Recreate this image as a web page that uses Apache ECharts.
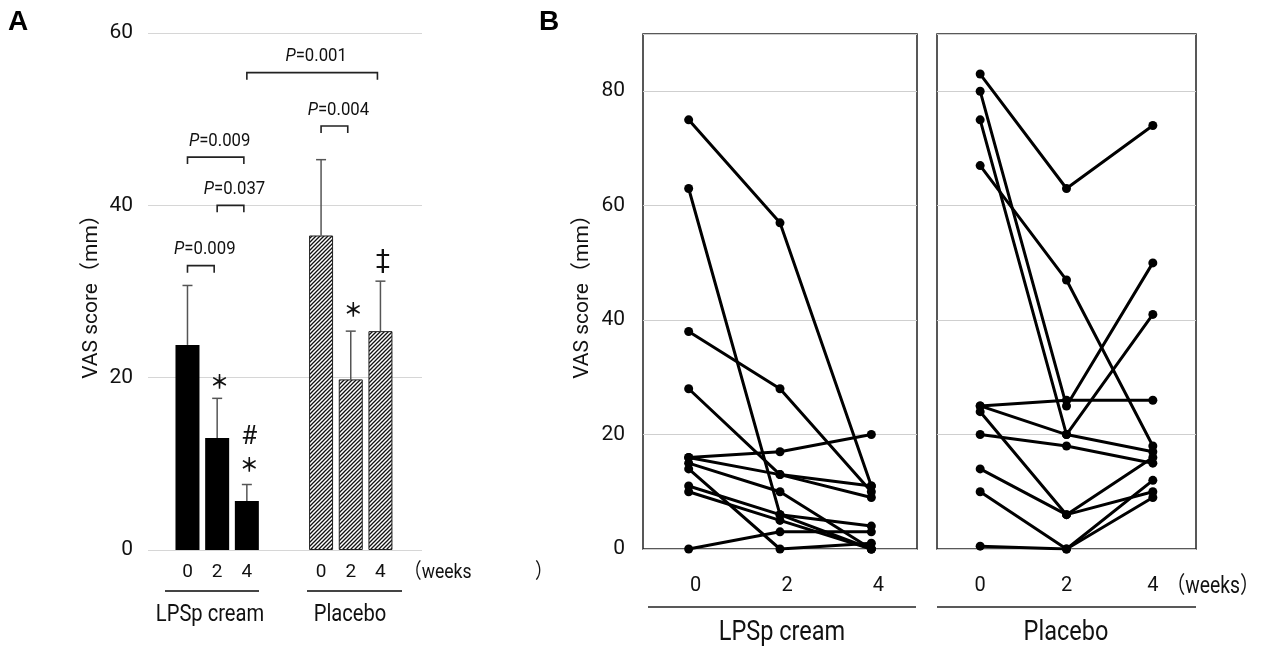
<!DOCTYPE html>
<html>
<head>
<meta charset="utf-8">
<script src="https://cdn.jsdelivr.net/npm/echarts@6/dist/echarts.min.js"></script>
<style>
  html, body { margin: 0; padding: 0; background: #fff; }
  #chart { width: 1272px; height: 646px; }
</style>
</head>
<body>
<div id="chart"></div>
<script>
// data
const weeks = ['0', '2', '4'];
const groups = ['LPSp cream', 'Placebo'];

// panel A: means and error (upper) per week
const lpspMean = [23.8, 13.0, 5.7];
const lpspErr = [6.9, 4.6, 1.9];
const placeboMean = [36.5, 19.8, 25.4];
const placeboErr = [8.8, 5.6, 5.8];

// significance brackets, bars numbered 0..5 (LPSp 0,2,4 then Placebo 0,2,4)
const pLabels = ['0.001', '0.004', '0.009', '0.037', '0.009'];
const pFrom = [2, 3, 0, 1, 0];
const pTo = [5, 4, 2, 2, 1];
const pLevel = [55.4, 49.2, 45.6, 40.0, 33.0];

// symbols above bars
const markText = ['＊', '#', '＊', '＊', '‡'];
const markBar = [1, 2, 2, 4, 5];
const markLevel = [19.5, 13.0, 9.9, 27.9, 33.5];

// panel B: individual subjects, weeks 0 / 2 / 4
const lpspSubjects = [
  [75, 57, 11],
  [63, 6, 4],
  [38, 28, 10],
  [28, 13, 9],
  [16, 17, 20],
  [16, 13, 11],
  [15, 10, 0],
  [14, 0, 1],
  [11, 6, 0],
  [10, 5, 0],
  [0, 3, 3]
];
const placeboSubjects = [
  [83, 63, 74],
  [80, 25, 50],
  [75, 20, 41],
  [67, 47, 18],
  [25, 26, 26],
  [25, 20, 17],
  [24, 6, 16],
  [20, 18, 15],
  [14, 6, 10],
  [10, 0, 12],
  [0.5, 0, 9]
];

const FONT = "Roboto, 'Noto Sans CJK JP', sans-serif";
const CJK = "'Noto Sans CJK JP', sans-serif";

// bar slot positions on panel A's hidden value axis
const barPos = [];
groups.forEach((g, gi) => weeks.forEach((w, wi) => barPos.push(gi * 4.5 + wi)));

function hatch() {
  const s = 4;
  const c = document.createElement('canvas');
  c.width = c.height = s;
  const g = c.getContext('2d');
  g.fillStyle = '#fff';
  g.fillRect(0, 0, s, s);
  g.strokeStyle = '#111';
  g.lineWidth = 1.3;
  g.beginPath();
  g.moveTo(0, s); g.lineTo(s, 0);
  g.moveTo(-1, 1); g.lineTo(1, -1);
  g.moveTo(s - 1, s + 1); g.lineTo(s + 1, s - 1);
  g.stroke();
  return c;
}

// condensed-looking text: a larger font squeezed horizontally
function narrowText(x, y, text, size, align) {
  return {
    type: 'text', x: x, y: y, scaleX: 0.84,
    style: {text: text, font: size + 'px ' + FONT, fill: '#111', align: align || 'center', verticalAlign: 'middle'}
  };
}

const errData = lpspMean.map((v, i) => [barPos[i], v, lpspErr[i]])
  .concat(placeboMean.map((v, i) => [barPos[i + 3], v, placeboErr[i]]));

let myChart = echarts.init(document.getElementById('chart'));

let lineSeries = [];
lpspSubjects.forEach(s => lineSeries.push({type: 'line', xAxisIndex: 1, yAxisIndex: 1, data: s}));
placeboSubjects.forEach(s => lineSeries.push({type: 'line', xAxisIndex: 2, yAxisIndex: 2, data: s}));
lineSeries.forEach(s => {
  s.symbol = 'circle';
  s.symbolSize = 9;
  s.lineStyle = {color: '#000', width: 3};
  s.itemStyle = {color: '#000'};
  s.silent = true;
});

const axisText = {color: '#111', fontFamily: FONT};

myChart.setOption({
  animation: false,
  grid: [
    {left: 148, top: 33, width: 274, height: 517},
    {left: 643, top: 34, width: 274, height: 515, show: true, borderColor: '#222', borderWidth: 1.5},
    {left: 937, top: 34, width: 259, height: 515, show: true, borderColor: '#222', borderWidth: 1.5}
  ],
  xAxis: [{
    gridIndex: 0,
    type: 'value',
    min: -1.33,
    max: 7.9,
    axisLine: {show: false},
    axisTick: {show: false},
    splitLine: {show: false},
    axisLabel: Object.assign({
      customValues: barPos,
      formatter: v => weeks[barPos.indexOf(v) % 3],
      fontSize: 19,
      margin: 13
    }, axisText)
  }, {
    gridIndex: 1,
    type: 'category',
    data: weeks,
    axisLine: {show: false},
    axisTick: {show: false},
    axisLabel: Object.assign({fontSize: 20, margin: 27, padding: [0, 0, 0, 14]}, axisText)
  }, {
    gridIndex: 2,
    type: 'category',
    data: weeks,
    axisLine: {show: false},
    axisTick: {show: false},
    axisLabel: Object.assign({fontSize: 20, margin: 27}, axisText)
  }],
  yAxis: [{
    gridIndex: 0,
    type: 'value',
    min: 0,
    max: 60,
    interval: 20,
    axisLine: {show: false},
    axisTick: {show: false},
    splitLine: {lineStyle: {color: '#d6d6d6', width: 1}},
    axisLabel: Object.assign({fontSize: 21, margin: 15}, axisText),
    name: 'VAS score（mm）',
    nameLocation: 'middle',
    nameGap: 46,
    nameTextStyle: {fontSize: 21, color: '#111', fontFamily: FONT}
  }, {
    gridIndex: 1,
    type: 'value',
    min: 0,
    max: 90,
    interval: 20,
    axisLine: {show: false},
    axisTick: {show: false},
    splitLine: {lineStyle: {color: '#cfcfcf', width: 1}},
    axisLabel: Object.assign({fontSize: 21, margin: 18, showMaxLabel: false}, axisText),
    name: 'VAS score（mm）',
    nameLocation: 'middle',
    nameGap: 50,
    nameTextStyle: {fontSize: 21, color: '#111', fontFamily: FONT}
  }, {
    gridIndex: 2,
    type: 'value',
    min: 0,
    max: 90,
    interval: 20,
    axisLine: {show: false},
    axisTick: {show: false},
    splitLine: {lineStyle: {color: '#cfcfcf', width: 1}},
    axisLabel: {show: false}
  }],
  series: [{
    type: 'bar',
    xAxisIndex: 0,
    yAxisIndex: 0,
    barWidth: 24,
    barGap: '-100%',
    itemStyle: {color: '#000'},
    data: lpspMean.map((v, i) => [barPos[i], v])
  }, {
    type: 'bar',
    xAxisIndex: 0,
    yAxisIndex: 0,
    barWidth: 24,
    barGap: '-100%',
    itemStyle: {color: {image: hatch(), repeat: 'repeat'}, borderColor: '#222', borderWidth: 1},
    data: placeboMean.map((v, i) => [barPos[i + 3], v])
  }, {
    // error bars, upper only
    type: 'custom',
    xAxisIndex: 0,
    yAxisIndex: 0,
    encode: {x: 0, y: 1},
    data: errData,
    renderItem: function (params, api) {
      let p0 = api.coord([api.value(0), api.value(1)]);
      let p1 = api.coord([api.value(0), api.value(1) + api.value(2)]);
      let st = {stroke: '#555', lineWidth: 1.5};
      return {
        type: 'group',
        children: [
          {type: 'line', shape: {x1: p0[0], y1: p0[1], x2: p1[0], y2: p1[1]}, style: st},
          {type: 'line', shape: {x1: p1[0] - 5, y1: p1[1], x2: p1[0] + 5, y2: p1[1]}, style: st}
        ]
      };
    }
  }, {
    // P value brackets
    type: 'custom',
    xAxisIndex: 0,
    yAxisIndex: 0,
    encode: {x: 0, y: 1},
    data: pLevel.map((v, i) => [barPos[pFrom[i]], v]),
    renderItem: function (params, api) {
      let i = params.dataIndex;
      let a = api.coord([barPos[pFrom[i]], pLevel[i]]);
      let b = api.coord([barPos[pTo[i]], pLevel[i]]);
      let x2 = b[0] - 3;
      return {
        type: 'group',
        children: [{
          type: 'polyline',
          shape: {points: [[a[0], a[1] + 7], [a[0], a[1]], [x2, a[1]], [x2, a[1] + 7]]},
          style: {stroke: '#222', lineWidth: 1.6, fill: null}
        }, {
          type: 'text',
          x: (a[0] + x2) / 2 + 4,
          y: a[1] - 16,
          scaleX: 0.88,
          style: {
            text: '{i|P}=' + pLabels[i],
            align: 'center',
            verticalAlign: 'middle',
            fill: '#111',
            font: '19px ' + FONT,
            rich: {i: {fontStyle: 'italic', fontSize: 19, fontFamily: FONT}}
          }
        }]
      };
    }
  }, {
    // significance symbols
    type: 'custom',
    xAxisIndex: 0,
    yAxisIndex: 0,
    encode: {x: 0, y: 1},
    data: markLevel.map((v, i) => [barPos[markBar[i]], v]),
    renderItem: function (params, api) {
      let i = params.dataIndex;
      let p = api.coord([barPos[markBar[i]] + 0.08, markLevel[i]]);
      let star = markText[i] === '＊';
      return {
        type: 'text',
        style: {
          text: markText[i],
          x: p[0],
          y: p[1],
          align: 'center',
          verticalAlign: 'middle',
          fill: '#111',
          font: star ? 'bold 19px ' + CJK : '26px ' + FONT
        }
      };
    }
  }].concat(lineSeries),
  graphic: [
    {type: 'text', left: 8, top: 8, style: {text: 'A', font: 'bold 28px "Liberation Sans", Arial, sans-serif', fill: '#000'}},
    {type: 'text', left: 539, top: 8, style: {text: 'B', font: 'bold 28px "Liberation Sans", Arial, sans-serif', fill: '#000'}},
    narrowText(404, 573, '（weeks', 21, 'left'),
    narrowText(535, 573, '）', 21, 'left'),
    {type: 'line', shape: {x1: 165, y1: 591, x2: 259, y2: 591}, style: {stroke: '#444', lineWidth: 2}},
    {type: 'line', shape: {x1: 307, y1: 591, x2: 402, y2: 591}, style: {stroke: '#444', lineWidth: 2}},
    narrowText(210, 615, groups[0], 24),
    narrowText(350, 615, groups[1], 24),
    narrowText(1166, 587, '（weeks）', 23, 'left'),
    {type: 'line', shape: {x1: 648, y1: 607, x2: 916, y2: 607}, style: {stroke: '#222', lineWidth: 1.5}},
    {type: 'line', shape: {x1: 937, y1: 607, x2: 1196, y2: 607}, style: {stroke: '#222', lineWidth: 1.5}},
    narrowText(782, 633, groups[0], 28),
    narrowText(1066, 633, groups[1], 28)
  ]
});
</script>
</body>
</html>
